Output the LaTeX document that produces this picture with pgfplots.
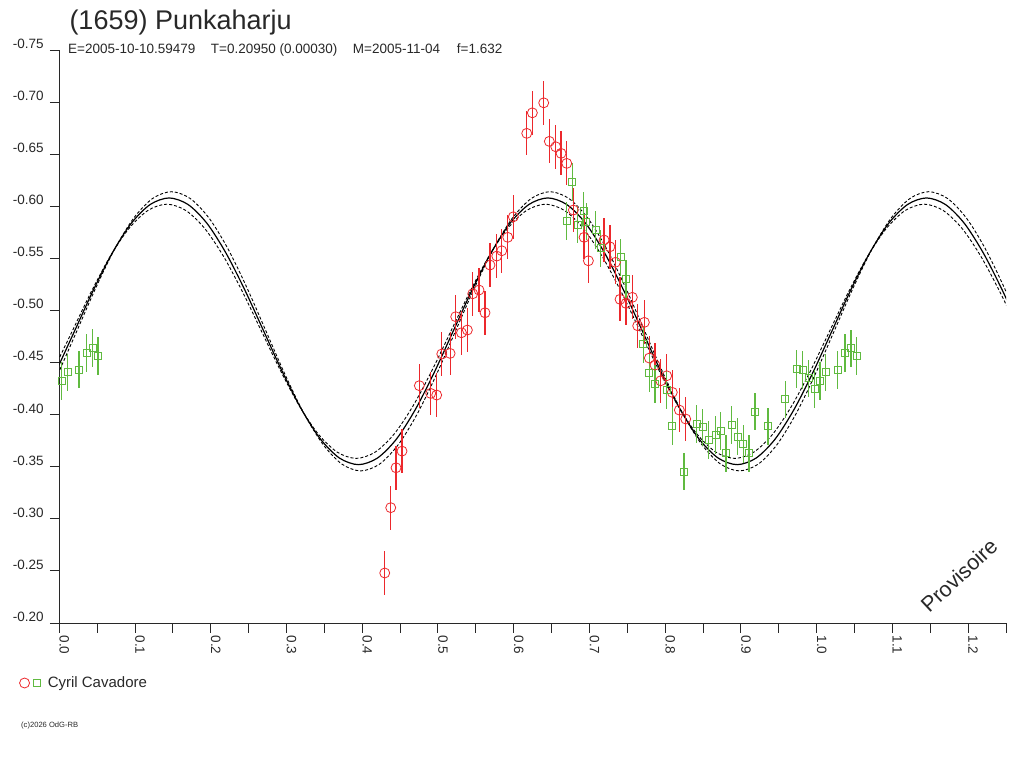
\documentclass[border=0pt]{standalone}
\usepackage{fontspec}
\setmainfont{Liberation Sans}
\usepackage{pgfplots}
\pgfplotsset{compat=1.18}
\usepackage{pgfplotstable}
\definecolor{cred}{RGB}{236,40,44}
\definecolor{cgreen}{RGB}{96,186,64}
\definecolor{axgray}{RGB}{40,40,40}

\pgfplotstableread{
x s a b
-0.005 -0.4404 -0.4386 -0.4423
0.020 -0.4800 -0.4800 -0.4800
0.045 -0.5196 -0.5214 -0.5177
0.070 -0.5552 -0.5588 -0.5517
0.095 -0.5836 -0.5884 -0.5787
0.120 -0.6017 -0.6074 -0.5960
0.145 -0.6080 -0.6140 -0.6020
0.170 -0.6017 -0.6074 -0.5960
0.195 -0.5836 -0.5884 -0.5787
0.220 -0.5552 -0.5588 -0.5517
0.245 -0.5196 -0.5214 -0.5177
0.270 -0.4800 -0.4800 -0.4800
0.295 -0.4404 -0.4386 -0.4423
0.320 -0.4048 -0.4012 -0.4083
0.345 -0.3764 -0.3716 -0.3813
0.370 -0.3583 -0.3526 -0.3640
0.395 -0.3520 -0.3460 -0.3580
0.420 -0.3583 -0.3526 -0.3640
0.445 -0.3764 -0.3716 -0.3813
0.470 -0.4048 -0.4012 -0.4083
0.495 -0.4404 -0.4386 -0.4423
0.520 -0.4800 -0.4800 -0.4800
0.545 -0.5196 -0.5214 -0.5177
0.570 -0.5552 -0.5588 -0.5517
0.595 -0.5836 -0.5884 -0.5787
0.620 -0.6017 -0.6074 -0.5960
0.645 -0.6080 -0.6140 -0.6020
0.670 -0.6017 -0.6074 -0.5960
0.695 -0.5836 -0.5884 -0.5787
0.720 -0.5552 -0.5588 -0.5517
0.745 -0.5196 -0.5214 -0.5177
0.770 -0.4800 -0.4800 -0.4800
0.795 -0.4404 -0.4386 -0.4423
0.820 -0.4048 -0.4012 -0.4083
0.845 -0.3764 -0.3716 -0.3813
0.870 -0.3583 -0.3526 -0.3640
0.895 -0.3520 -0.3460 -0.3580
0.920 -0.3583 -0.3526 -0.3640
0.945 -0.3764 -0.3716 -0.3813
0.970 -0.4048 -0.4012 -0.4083
0.995 -0.4404 -0.4386 -0.4423
1.020 -0.4800 -0.4800 -0.4800
1.045 -0.5196 -0.5214 -0.5177
1.070 -0.5552 -0.5588 -0.5517
1.095 -0.5836 -0.5884 -0.5787
1.120 -0.6017 -0.6074 -0.5960
1.145 -0.6080 -0.6140 -0.6020
1.170 -0.6017 -0.6074 -0.5960
1.195 -0.5836 -0.5884 -0.5787
1.220 -0.5552 -0.5588 -0.5517
1.245 -0.5196 -0.5214 -0.5177
1.270 -0.4800 -0.4800 -0.4800
}\fit

\pgfplotstableread{
x y e
0.4297 -0.2480 0.021
0.4376 -0.3107 0.021
0.4446 -0.3490 0.021
0.4525 -0.3650 0.021
0.4754 -0.4278 0.021
0.4904 -0.4204 0.021
0.4983 -0.4188 0.021
0.5050 -0.4582 0.021
0.5160 -0.4588 0.021
0.5234 -0.4940 0.021
0.5310 -0.4786 0.021
0.5388 -0.4812 0.021
0.5459 -0.5160 0.021
0.5542 -0.5196 0.021
0.5621 -0.4978 0.021
0.5687 -0.5436 0.021
0.5776 -0.5522 0.021
0.5842 -0.5573 0.021
0.5921 -0.5702 0.021
0.5995 -0.5899 0.021
0.6172 -0.6700 0.021
0.6246 -0.6897 0.021
0.6396 -0.6993 0.021
0.6470 -0.6623 0.021
0.6555 -0.6571 0.021
0.6625 -0.6508 0.021
0.6700 -0.6412 0.021
0.6788 -0.5964 0.021
0.6929 -0.5702 0.021
0.6986 -0.5477 0.021
0.7193 -0.5676 0.021
0.7270 -0.5611 0.021
0.7342 -0.5462 0.021
0.7404 -0.5107 0.021
0.7483 -0.5068 0.021
0.7566 -0.5126 0.021
0.7637 -0.4853 0.021
0.7725 -0.4886 0.021
0.7791 -0.4543 0.021
0.7866 -0.4476 0.021
0.7941 -0.4325 0.021
0.8020 -0.4373 0.021
0.8094 -0.4214 0.021
0.8187 -0.4044 0.021
0.8271 -0.3958 0.021
}\red

\pgfplotstableread{
x y e
0.0030 -0.4325 0.018
0.0110 -0.4406 0.018
0.0260 -0.4431 0.018
0.0360 -0.4594 0.018
0.0440 -0.4639 0.018
0.0510 -0.4565 0.018
0.6700 -0.5858 0.018
0.6774 -0.6235 0.018
0.6845 -0.5826 0.018
0.6920 -0.5957 0.018
0.6958 -0.5852 0.018
0.7083 -0.5772 0.018
0.7149 -0.5596 0.018
0.7413 -0.5510 0.018
0.7483 -0.5304 0.018
0.7712 -0.4675 0.018
0.7791 -0.4402 0.018
0.7866 -0.4294 0.018
0.8020 -0.4236 0.018
0.8094 -0.3890 0.018
0.8249 -0.3452 0.018
0.8417 -0.3910 0.018
0.8496 -0.3878 0.018
0.8575 -0.3756 0.018
0.8663 -0.3804 0.018
0.8733 -0.3845 0.018
0.8804 -0.3629 0.018
0.8879 -0.3903 0.018
0.8958 -0.3788 0.018
0.9032 -0.3718 0.018
0.9107 -0.3629 0.018
0.9187 -0.4028 0.018
0.9358 -0.3888 0.018
0.9587 -0.4147 0.018
0.9737 -0.4440 0.018
0.9816 -0.4428 0.018
0.9891 -0.4348 0.018
0.9970 -0.4246 0.018
1.0045 -0.4325 0.018
1.0120 -0.4406 0.018
1.0274 -0.4428 0.018
1.0375 -0.4594 0.018
1.0454 -0.4636 0.018
1.0525 -0.4565 0.018
}\green

\begin{document}
\begin{tikzpicture}[x=1pt,y=1pt]
\path[use as bounding box] (0,0) rectangle (1024,768);
\begin{axis}[
  at={(59.3pt,145pt)}, anchor=south west,
  scale only axis, width=946.7pt, height=573pt,
  xmin=0, xmax=1.25, ymin=-0.75, ymax=-0.20, y dir=reverse,
  axis x line=bottom, axis y line=left,
  axis line style={-, line width=1pt, draw=axgray},
  tick style={line width=1pt, draw=axgray},
  tick align=outside,
  major tick length=9.5pt, minor tick length=9.5pt,
  xtick={0,0.1,0.2,0.3,0.4,0.5,0.6,0.7,0.8,0.9,1.0,1.1,1.2},
  xticklabels={0.0,0.1,0.2,0.3,0.4,0.5,0.6,0.7,0.8,0.9,1.0,1.1,1.2},
  minor xtick={0.05,0.15,0.25,0.35,0.45,0.55,0.65,0.75,0.85,0.95,1.05,1.15,1.25},
  ytick={-0.75,-0.70,-0.65,-0.60,-0.55,-0.50,-0.45,-0.40,-0.35,-0.30,-0.25,-0.20},
  yticklabels={-0.75,-0.70,-0.65,-0.60,-0.55,-0.50,-0.45,-0.40,-0.35,-0.30,-0.25,-0.20},
  ticklabel style={font=\fontsize{13.5}{14}\selectfont, text=axgray, inner sep=0pt},
  xticklabel shift=3pt,
  xticklabel style={rotate=-90, anchor=south west},
  yticklabel style={anchor=south east, xshift=-6pt, yshift=1.3pt},
  legend style={at={(axis description cs:-0.0426,-0.1047)}, anchor=west, draw=none, fill=none,
    inner sep=0pt, font=\fontsize{15}{16}\selectfont, text=axgray},
  legend cell align=left,
]
\addlegendimage{legend image code/.code={
  \draw[cred, line width=0.8pt] (5pt,0pt) circle (5pt);
  \draw[cgreen, line width=0.8pt] (13.5pt,-3.5pt) rectangle (20.5pt,3.5pt);
  \path (26pt,0pt);}}
\addlegendentry{Cyril Cavadore}
\addplot[forget plot, black, line width=1.2pt, smooth] table[x=x, y=s] {\fit};
\addplot[forget plot, black, line width=0.9pt, smooth, dash pattern=on 3pt off 2pt] table[x expr=\thisrow{x}+0.003, y=a] {\fit};
\addplot[forget plot, black, line width=0.9pt, smooth, dash pattern=on 3pt off 2pt] table[x expr=\thisrow{x}-0.003, y=b] {\fit};
\addplot[forget plot, only marks, mark=o, mark size=5pt, cred, line width=0.8pt,
  error bars/.cd, y dir=both, y explicit, error mark=none,
  error bar style={line width=1.2pt, cred}]
  table[x=x, y=y, y error=e] {\red};
\addplot[forget plot, only marks, mark=square, mark size=3.5pt, cgreen, line width=0.8pt,
  error bars/.cd, y dir=both, y explicit, error mark=none,
  error bar style={line width=1.2pt, cgreen}]
  table[x=x, y=y, y error=e] {\green};
\end{axis}
\node[anchor=base west, inner sep=0pt, font=\fontsize{27}{30}\selectfont, text=axgray] at (69.3,738.7) {(1659) Punkaharju};
\begin{scope}[every node/.style={anchor=base west, inner sep=0pt, font=\fontsize{13.5}{14}\selectfont, text=axgray}]
\node at (68,714) {E=2005-10-10.59479};
\node at (210.7,714) {T=0.20950 (0.00030)};
\node at (352.7,714) {M=2005-11-04};
\node at (456.7,714) {f=1.632};
\end{scope}
\node[anchor=base west, inner sep=0pt, font=\fontsize{7.6}{8}\selectfont, text=axgray] at (21,40.3) {(c)2026 OdG-RB};
\node[rotate=43, inner sep=0pt, font=\fontsize{21.5}{22}\selectfont, text=axgray] at (959,192.5) {Provisoire};
\end{tikzpicture}
\end{document}
